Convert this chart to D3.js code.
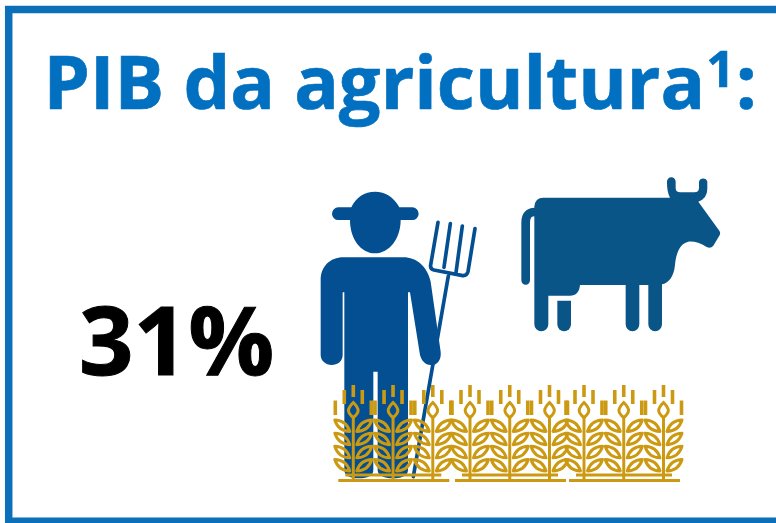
<!DOCTYPE html>
<html lang="pt">
<head>
<meta charset="utf-8">
<title>PIB da agricultura</title>
<script src="https://cdn.jsdelivr.net/npm/d3@7"></script>
<style>
  html, body { margin: 0; padding: 0; background: #fff; }
  svg { display: block; }
  text { font-family: "Open Sans", sans-serif; font-weight: 700; }
</style>
</head>
<body>
<script>
// Headline content
const titleWords = ["PIB da agricultura"];
const footnoteMarks = ["1"];
const titleEnd = [":"];
const shareValues = [31];

// Pictogram layout: three rows of wheat, three stalks each
const wheatGroups = [0, 1, 2];
const stalksPerGroup = [0, 1, 2];
const leafLevels = [0, 1, 2, 3];
const leafSides = [-1, 1];
const grainDashes = [[0, 385, 12], [-9, 390, 14], [9, 390, 14], [-18, 400.5, 14.5], [18, 400.5, 14.5]];

const width = 776, height = 523;
const blue = "#0b6fb9", titleBlue = "#0270c0", farmerBlue = "#034f92", cowBlue = "#0a5587", wheat = "#cc9a12";

const svg = d3.select("body").append("svg").attr("width", width).attr("height", height);

// Frame: open on the right-hand side
svg.append("path")
  .attr("d", "M776,9.5H8.7V521.3H776")
  .attr("fill", "none").attr("stroke", blue).attr("stroke-width", 7.5);

// Title with superscript footnote mark
const title = svg.append("text").attr("x", 43.5).attr("y", 109)
  .attr("font-size", 74).attr("fill", titleBlue)
  .attr("stroke", titleBlue).attr("stroke-width", 0.7);
title.append("tspan").text(titleWords[0]);
title.append("tspan").attr("font-size", 50).attr("dy", -22).attr("dx", 1).text(footnoteMarks[0]);
title.append("tspan").attr("dy", 22).attr("dx", 1).text(titleEnd[0]);

// Headline share
svg.append("text").attr("x", 79).attr("y", 374.5)
  .attr("font-size", 95.5).attr("fill", "#000")
  .attr("stroke", "#000").attr("stroke-width", 1)
  .text(d3.format(".0f")(shareValues[0]) + "%");

// Farmer, drawn in a 3x grid so the outline stays in whole units
const farmer = svg.append("g").attr("transform", "translate(310,170) scale(0.3333)");
// pitchfork
farmer.append("path")
  .attr("d", "M415,318L310,920M384,157L362,285Q360,297 372,300L458,317Q471,318 474,305L495,176M421,161L402,292M457,168L438,308")
  .attr("fill", "none").attr("stroke", farmerBlue).attr("stroke-width", 11).attr("stroke-linecap", "round");
// hat and head
farmer.append("path")
  .attr("d", "M85,112H124C138,82 164,65 195,65C226,65 252,82 268,112H307A19,19 0 0 1 307,150H272C272,206 238,250 195,250C152,250 120,206 120,150H85A19,19 0 0 1 85,112Z")
  .attr("fill", farmerBlue);
// torso, arms and both legs as one outline
farmer.append("path")
  .attr("d", "M100,262H280C320,262 352,290 362,335L392,545C395,570 380,587 362,585C345,585 335,572 330,555L300,367H294V900C294,915 280,925 250,925C218,925 203,915 203,900V605H190V900C190,915 178,925 145,925C118,925 103,915 103,900V367H98V555C98,575 82,585 65,585C47,585 32,572 32,555V330C32,290 60,262 100,262Z")
  .attr("fill", farmerBlue);

// Cow, same 3x grid
const cow = svg.append("g").attr("transform", "translate(500,165) scale(0.3333)");
cow.append("path")
  .attr("d", "M103,125Q105,98 130,98H510C503,85 501,70 501,50A13,13 0 0 1 527,50V68Q527,82 541,82H583Q597,82 597,68V50A13,13 0 0 1 622,50V72Q622,100 595,110L658,197Q663,205 658,212L640,242Q632,252 620,246C600,233 580,228 565,230C540,235 528,265 525,300C522,335 505,355 486,358V478A20.5,20.5 0 0 1 445,478V360H418V478A20.5,20.5 0 0 1 377,478V360H240C238,382 228,392 210,392H145V478A20.5,20.5 0 0 1 103,478Z")
  .attr("fill", cowBlue);
cow.append("path")
  .attr("d", "M172,407H213V478A20.5,20.5 0 0 1 172,478Z")
  .attr("fill", cowBlue);
cow.append("path")
  .attr("d", "M77,346V172Q77,141 105,141")
  .attr("fill", "none").attr("stroke", cowBlue).attr("stroke-width", 26).attr("stroke-linecap", "round");

// Wheat field
const groupX = d3.scaleLinear().domain([0, 1, 2]).range([353.3, 470, 584]);
const stalkX = d3.scaleLinear().domain([0, 2]).range([0, 79.5]);
const leafY = d3.scaleLinear().domain([0, 3]).range([0, 39.5]);

const groups = svg.append("g").selectAll("g").data(wheatGroups).join("g")
  .attr("transform", d => `translate(${groupX(d)},0)`)
  .attr("stroke", wheat).attr("fill", "none");

// ground lines under each group
groups.append("path").attr("stroke-width", 3).attr("d", "M-15,480.5H96");
groups.append("path").attr("stroke-width", 3).attr("d", "M-8,475H88");

const stalks = groups.selectAll("g.stalk").data(stalksPerGroup).join("g")
  .attr("class", "stalk")
  .attr("transform", d => `translate(${stalkX(d)},0)`);

stalks.append("path").attr("stroke-width", 3).attr("d", "M0,417V480");
stalks.append("path").attr("stroke-width", 3)
  .attr("d", "M0,402.5C2.5,405 4.8,408 4.8,410.5C4.8,413 2.5,415.5 0,417.5C-2.5,415.5 -4.8,413 -4.8,410.5C-4.8,408 -2.5,405 0,402.5Z");

stalks.selectAll("line").data(grainDashes).join("line")
  .attr("x1", d => d[0]).attr("x2", d => d[0])
  .attr("y1", d => d[1]).attr("y2", d => d[1] + d[2])
  .attr("stroke-width", 3.6);

// pairs of hollow leaves, mirrored about the stem
stalks.selectAll("g.side").data(leafSides).join("g")
  .attr("class", "side")
  .attr("transform", d => `scale(${d},1)`)
  .selectAll("path").data(leafLevels).join("path")
  .attr("stroke-width", 3)
  .attr("stroke-linejoin", "round")
  .attr("transform", d => `translate(0,${leafY(d)})`)
  .attr("d", "M3.5,431.5C5.8,424.2 10.8,420.2 18.5,420C16.2,427.4 11.2,431.2 3.5,431.5Z");
</script>
</body>
</html>
